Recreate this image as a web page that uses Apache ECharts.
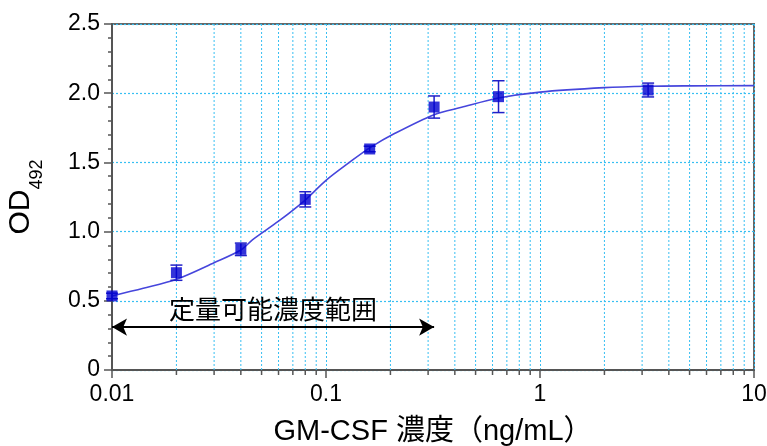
<!DOCTYPE html>
<html>
<head>
<meta charset="utf-8">
<script src="https://cdn.jsdelivr.net/npm/echarts@6/dist/echarts.min.js"></script>
<style>html,body{margin:0;padding:0;background:#fff;}#c{width:767px;height:446px;}</style>
</head>
<body>
<div id="c"></div>
<script>
// Measured points
const conc = [0.01, 0.02, 0.04, 0.08, 0.16, 0.32, 0.64, 3.2];
const od = [0.535, 0.703, 0.872, 1.233, 1.597, 1.90, 1.975, 2.023];
const err = [0.02, 0.055, 0.045, 0.055, 0.02, 0.08, 0.115, 0.05];
// Fitted curve
const curveX = [0.01, 0.014, 0.02, 0.03, 0.04, 0.0453, 0.06, 0.08, 0.1, 0.13, 0.16, 0.21, 0.32, 0.43, 0.64, 1.0, 2.0, 3.2, 5, 10];
const curveY = [0.535, 0.59, 0.655, 0.775, 0.867, 0.94, 1.075, 1.228, 1.37, 1.505, 1.605, 1.71, 1.845, 1.898, 1.965, 2.008, 2.04, 2.05, 2.053, 2.055];
// Minor log ticks / grid
const minorX = [0.02,0.03,0.04,0.05,0.06,0.07,0.08,0.09,0.2,0.3,0.4,0.5,0.6,0.7,0.8,0.9,2,3,4,5,6,7,8,9];
const xTickLabels = ['0.01', '0.1', '1', '10'];
// Quantifiable range arrow
const rangeX = [0.01, 0.32];
const rangeY = 0.31;
const rangeLabel = '定量可能濃度範囲';

const FONT = '"Liberation Sans", Arial, "Noto Sans CJK JP", sans-serif';
const GRID_COLOR = '#38bff2';

const chart = echarts.init(document.getElementById('c'), null, {renderer: 'canvas'});

const option = {
  animation: false,
  backgroundColor: '#ffffff',
  grid: {left: 112, right: 13, top: 24, bottom: 76, outerBoundsMode: 'none', containLabel: false,
    show: true, borderColor: '#666', borderWidth: 2, backgroundColor: 'transparent'},
  xAxis: {
    type: 'log', logBase: 10, min: 0.01, max: 10,
    name: 'GM-CSF 濃度（ng/mL）', nameLocation: 'middle', nameGap: 47,
    nameTextStyle: {fontSize: 29, color: '#000', fontFamily: FONT},
    axisLine: {show: true, lineStyle: {color: '#555', width: 2}},
    axisTick: {show: true, length: 8, lineStyle: {color: '#555', width: 1.5}},
    minorTick: {show: false},
    axisLabel: {fontSize: 23, color: '#000', fontFamily: FONT, margin: 13,
      formatter: function (v) { const i = Math.round(Math.log10(v)) + 2; return xTickLabels[i] !== undefined ? xTickLabels[i] : String(v); }},
    splitLine: {show: true, lineStyle: {color: GRID_COLOR, type: [2, 2], width: 1}}
  },
  yAxis: {
    type: 'value', min: 0, max: 2.5, interval: 0.5,
    name: '{a|OD}{b|492}', nameLocation: 'middle', nameGap: 66, nameRotate: 90,
    nameTextStyle: {color: '#000', fontFamily: FONT,
      rich: {
        a: {fontSize: 30, lineHeight: 40, verticalAlign: 'top', fontFamily: FONT, color: '#000'},
        b: {fontSize: 18, lineHeight: 18, verticalAlign: 'bottom', fontFamily: FONT, color: '#000'}
      }},
    axisLine: {show: true, lineStyle: {color: '#555', width: 2}},
    axisTick: {show: true, length: 8, lineStyle: {color: '#555', width: 1.5}},
    minorTick: {show: true, splitNumber: 5, length: 4, lineStyle: {color: '#555', width: 1.5}},
    axisLabel: {fontSize: 23, color: '#000', fontFamily: FONT, margin: 12,
      formatter: function (v) { return v === 0 ? '0' : v.toFixed(1); }},
    splitLine: {show: true, lineStyle: {color: GRID_COLOR, type: [2, 2], width: 1.2}}
  },
  series: [
    {
      type: 'custom', name: 'minorGrid', silent: true, z: 1,
      data: minorX.map(v => [v, 0]),
      encode: {x: 0, y: 1},
      renderItem: function (params, api) {
        const cs = params.coordSys;
        const x = api.coord([api.value(0), 0])[0];
        const bottom = cs.y + cs.height;
        return {type: 'group', children: [
          {type: 'line', shape: {x1: x, y1: cs.y, x2: x, y2: bottom}, style: {stroke: GRID_COLOR, lineWidth: 1, lineDash: [2, 2]}},
          {type: 'line', shape: {x1: x, y1: bottom, x2: x, y2: bottom + 5}, style: {stroke: '#555', lineWidth: 1.5}}
        ]};
      }
    },
    {
      type: 'line', name: 'fit', z: 3,
      data: curveX.map((x, i) => [x, curveY[i]]),
      smooth: 0.3, showSymbol: false,
      lineStyle: {color: '#4646dc', width: 1.6},
      markLine: {
        silent: true, symbol: ['arrow', 'arrow'], symbolSize: [13, 15],
        lineStyle: {color: '#000', width: 2, type: 'solid'},
        label: {show: true, position: 'insideMiddleTop', formatter: rangeLabel, color: '#000', fontSize: 26, fontFamily: '"Noto Sans CJK JP", sans-serif', distance: 5},
        data: [[{coord: [rangeX[0], rangeY]}, {coord: [rangeX[1], rangeY]}]]
      }
    },
    {
      type: 'custom', name: 'errorbars', z: 4,
      data: conc.map((x, i) => [x, od[i] - err[i], od[i] + err[i]]),
      encode: {x: 0, y: [1, 2]},
      renderItem: function (params, api) {
        const x = api.value(0);
        const lo = api.coord([x, api.value(1)]);
        const hi = api.coord([x, api.value(2)]);
        const w = 6;
        const st = {stroke: '#2020c8', lineWidth: 1.5};
        return {type: 'group', children: [
          {type: 'line', shape: {x1: lo[0], y1: lo[1], x2: hi[0], y2: hi[1]}, style: st},
          {type: 'line', shape: {x1: lo[0] - w, y1: lo[1], x2: lo[0] + w, y2: lo[1]}, style: st},
          {type: 'line', shape: {x1: hi[0] - w, y1: hi[1], x2: hi[0] + w, y2: hi[1]}, style: st}
        ]};
      }
    },
    {
      type: 'scatter', name: 'OD', z: 5,
      data: conc.map((x, i) => [x, od[i]]),
      symbol: 'rect', symbolSize: 11,
      itemStyle: {color: '#0000d0'}
    }
  ]
};
chart.setOption(option);
</script>
</body>
</html>
